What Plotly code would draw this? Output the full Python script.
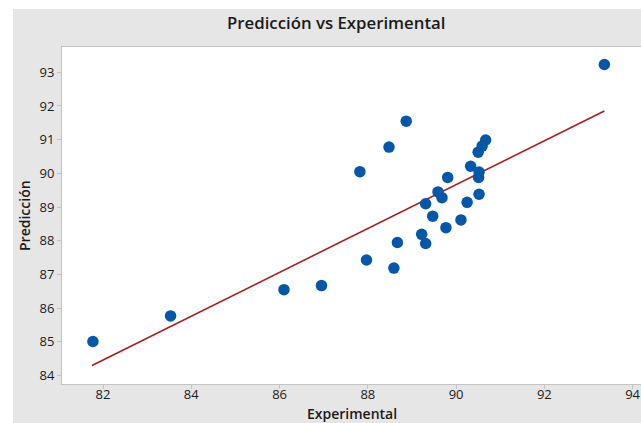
import plotly.graph_objects as go

# Data
experimental = [81.77, 83.53, 86.10, 86.95, 87.97, 88.67, 88.59,
                87.82, 88.48, 88.87,
                90.67, 90.59, 90.50, 90.33, 90.52, 90.51, 89.81, 89.59, 89.68,
                89.31, 90.52, 90.25, 89.47, 90.11, 89.77, 89.22, 89.31,
                93.36]
prediccion = [85.01, 85.77, 86.55, 86.67, 87.43, 87.95, 87.19,
              90.05, 90.78, 91.55,
              90.99, 90.81, 90.63, 90.21, 90.04, 89.88, 89.88, 89.45, 89.28,
              89.10, 89.38, 89.14, 88.73, 88.62, 88.39, 88.19, 87.92,
              93.23]
fit_x = [81.75, 93.36]
fit_y = [84.30, 91.85]

x_ticks = [82, 84, 86, 88, 90, 92, 94]
y_ticks = [84, 85, 86, 87, 88, 89, 90, 91, 92, 93]

FONT = "Open Sans"
TXT = "#1a1a1a"
GRAY = "#e6e6e6"
AXIS = "#c4c4c4"

fig = go.Figure()
fig.add_trace(go.Scatter(x=fit_x, y=fit_y, mode="lines",
                         line=dict(color="#a41e22", width=1.6),
                         hoverinfo="skip", showlegend=False))
fig.add_trace(go.Scatter(x=experimental, y=prediccion, mode="markers",
                         marker=dict(color="#0757a8", size=11.5, line=dict(width=0)),
                         showlegend=False))

W, H = 641, 423
L, R, T, B = 62, 0, 47, 39
pw, ph = W - L - R, H - T - B

def px_x(p):
    return (p - L) / pw

def px_y(p):
    return (H - B - p) / ph

fig.update_layout(
    width=W, height=H,
    margin=dict(l=L, r=R, t=T, b=B, pad=0),
    paper_bgcolor=GRAY, plot_bgcolor="white",
    font=dict(family=FONT, size=13, color=TXT),
    xaxis=dict(range=[81.07, 94.19], tickmode="array", tickvals=x_ticks,
               ticktext=[str(v) for v in x_ticks],
               showgrid=False, zeroline=False, showline=True, linecolor=AXIS,
               linewidth=1, mirror=True, ticks="outside", ticklen=4,
               tickcolor=AXIS, tickfont=dict(size=13, color=TXT),
               ticklabelstandoff=-6),
    yaxis=dict(range=[83.75, 93.75], tickmode="array", tickvals=y_ticks,
               ticktext=[str(v) for v in y_ticks],
               showgrid=False, zeroline=False, showline=True, linecolor=AXIS,
               linewidth=1, mirror=False, ticks="outside", ticklen=4,
               tickcolor=AXIS, tickfont=dict(size=13, color=TXT)),
    shapes=[
        dict(type="rect", xref="paper", yref="paper", layer="above",
             x0=px_x(0), x1=px_x(13), y0=px_y(H), y1=px_y(0),
             fillcolor="white", line=dict(width=0)),
        dict(type="rect", xref="paper", yref="paper", layer="above",
             x0=px_x(0), x1=px_x(W + 5), y0=px_y(9), y1=px_y(0),
             fillcolor="white", line=dict(width=0)),
    ],
    annotations=[
        dict(text="Predicción vs Experimental", xref="paper", yref="paper",
             x=px_x(336), y=px_y(23), xanchor="center", yanchor="middle",
             showarrow=False, font=dict(family=FONT, size=16.8, color=TXT, weight=600)),
        dict(text="Experimental", xref="paper", yref="paper",
             x=px_x(352), y=px_y(413), xanchor="center", yanchor="middle",
             showarrow=False, font=dict(family=FONT, size=14, color=TXT, weight=600)),
        dict(text="Predicción", xref="paper", yref="paper", textangle=-90,
             x=px_x(24), y=px_y(215), xanchor="center", yanchor="middle",
             showarrow=False, font=dict(family=FONT, size=14, color=TXT, weight=600)),
    ],
)

fig.write_html("out.html")
